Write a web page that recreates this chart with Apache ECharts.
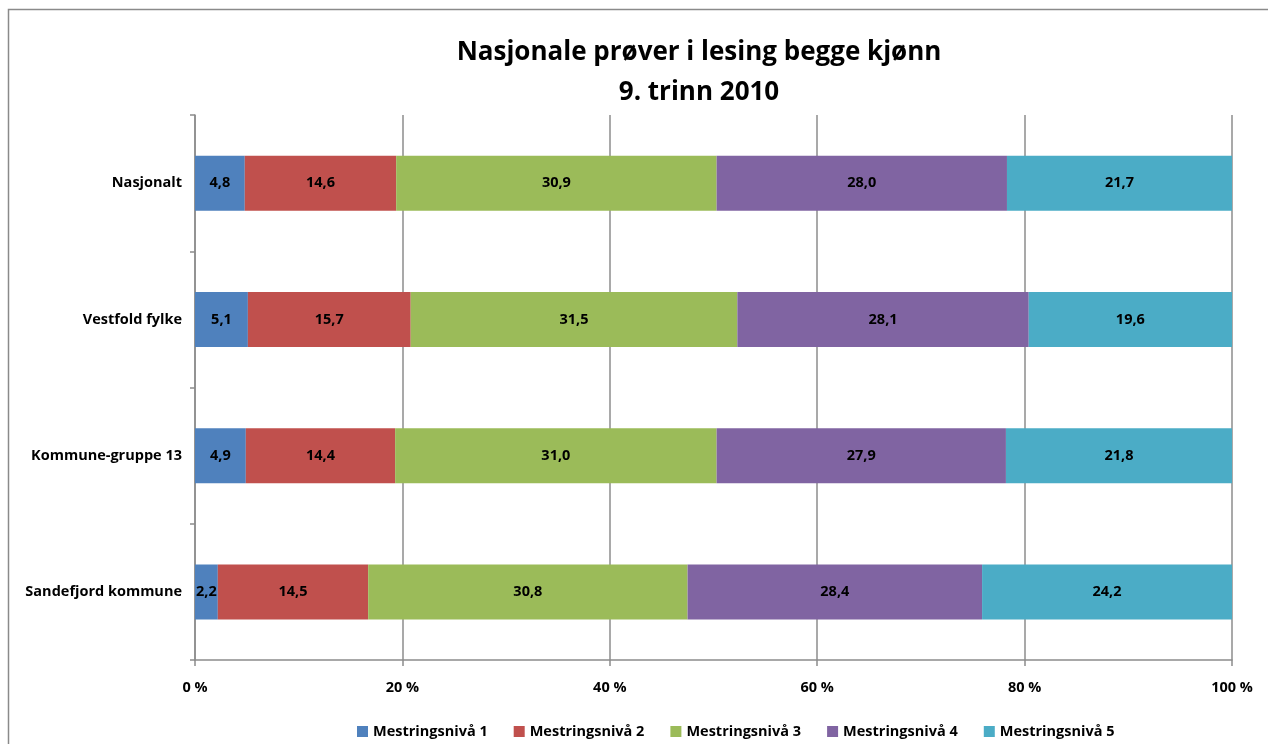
<!DOCTYPE html>
<html><head><meta charset="utf-8">
<script src="https://cdn.jsdelivr.net/npm/echarts@6/dist/echarts.min.js"></script>
<style>html,body{margin:0;padding:0;background:#fff}#c{width:1268px;height:744px}</style>
</head><body><div id="c"></div>
<script>
const categories = ['Nasjonalt', 'Vestfold fylke', 'Kommune-gruppe 13', 'Sandefjord kommune'];
const seriesNames = ['Mestringsnivå 1', 'Mestringsnivå 2', 'Mestringsnivå 3', 'Mestringsnivå 4', 'Mestringsnivå 5'];
const niva1 = [4.8, 5.1, 4.9, 2.2];
const niva2 = [14.6, 15.7, 14.4, 14.5];
const niva3 = [30.9, 31.5, 31.0, 30.8];
const niva4 = [28.0, 28.1, 27.9, 28.4];
const niva5 = [21.7, 19.6, 21.8, 24.2];
const xTicks = [0, 20, 40, 60, 80, 100];
const colors = ['#4F81BD', '#C0504D', '#9BBB59', '#8064A2', '#4BACC6'];
const values = [niva1, niva2, niva3, niva4, niva5];
const FONT = '"Open Sans", sans-serif';

const chart = echarts.init(document.getElementById('c'));
chart.setOption({
  animation: false,
  title: {
    text: 'Nasjonale prøver i lesing begge kjønn\n9. trinn 2010',
    left: 694, textAlign: 'center', top: 28,
    textStyle: { fontFamily: FONT, fontWeight: 'bold', fontSize: 26, color: '#000', lineHeight: 40 }
  },
  legend: {
    bottom: 0, left: 352, itemWidth: 11, itemHeight: 11, itemGap: 26,
    icon: 'rect',
    textStyle: { fontFamily: FONT, fontWeight: 'bold', fontSize: 14.5, color: '#000' },
    data: seriesNames
  },
  graphic: [{
    type: 'rect', shape: { x: 8.5, y: 9.5, width: 1400, height: 900 },
    style: { fill: 'none', stroke: '#8a8a8a', lineWidth: 1.5 }, silent: true, z: -1
  }],
  grid: { left: 195, right: 36, top: 115, bottom: 84 },
  xAxis: {
    type: 'value', min: xTicks[0], max: xTicks[xTicks.length - 1], interval: 20,
    axisLine: { show: true, lineStyle: { color: '#8c8c8c', width: 1.5 } },
    axisTick: { show: true, length: 6, lineStyle: { color: '#8c8c8c', width: 1.5 } },
    splitLine: { show: true, lineStyle: { color: '#8c8c8c', width: 1.5 } },
    axisLabel: {
      margin: 20, fontFamily: FONT, fontWeight: 'bold', fontSize: 14.5, color: '#000',
      formatter: v => v + ' %'
    }
  },
  yAxis: {
    type: 'category', data: categories, inverse: true,
    axisLine: { show: true, lineStyle: { color: '#8c8c8c', width: 1.5 } },
    axisTick: { show: true, length: 5, lineStyle: { color: '#8c8c8c', width: 1.5 } },
    axisLabel: { margin: 13, fontFamily: FONT, fontWeight: 'bold', fontSize: 14.5, color: '#000' }
  },
  series: seriesNames.map((name, i) => ({
    name, type: 'bar', stack: 'total', barWidth: 55,
    itemStyle: { color: colors[i] },
    label: {
      show: true, position: 'inside', color: '#000',
      fontFamily: FONT, fontWeight: 'bold', fontSize: 14.5,
      formatter: p => p.value.toFixed(1).replace('.', ',')
    },
    data: values[i]
  }))
});
</script></body></html>
